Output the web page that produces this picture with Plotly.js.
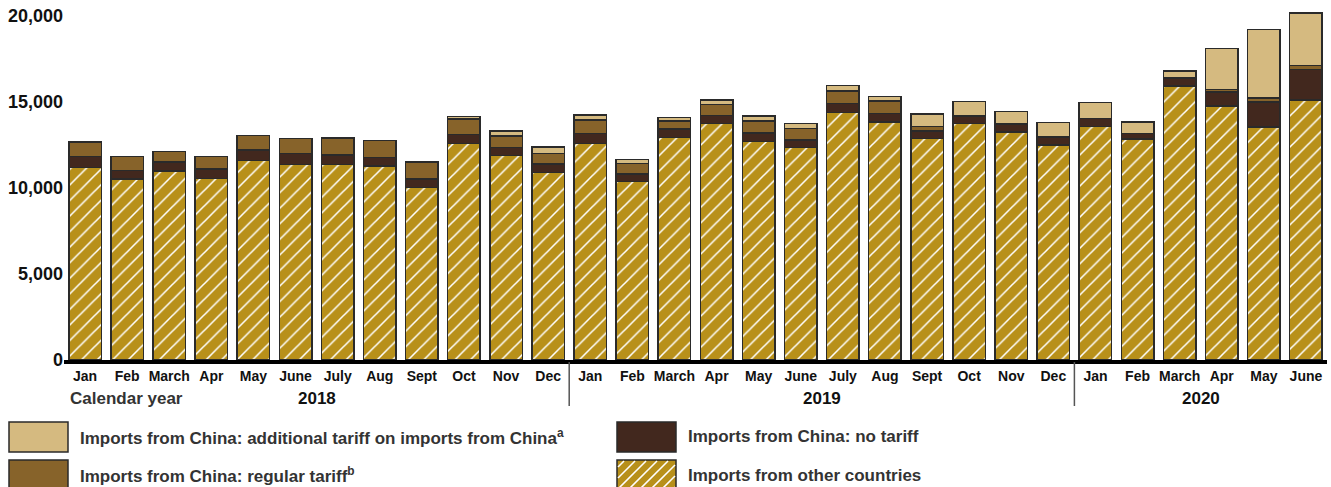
<!DOCTYPE html>
<html>
<head>
<meta charset="utf-8">
<script src="https://cdn.plot.ly/plotly-3.0.1.min.js"></script>
<style>html,body{margin:0;padding:0;background:#fff;}#chart{width:1331px;height:487px;}</style>
</head>
<body>
<div id="chart"></div>
<script>
// ---- data ----
const months = ['Jan','Feb','March','Apr','May','June','July','Aug','Sept','Oct','Nov','Dec',
                'Jan','Feb','March','Apr','May','June','July','Aug','Sept','Oct','Nov','Dec',
                'Jan','Feb','March','Apr','May','June'];
const yearLabels = ['2018','2019','2020'];
const otherCountries = [11200,10520,10990,10560,11610,11380,11380,11280,10020,12580,11880,10910,
                        12600,10370,12950,13740,12710,12350,14400,13840,12890,13760,13260,12500,
                        13570,12850,15930,14770,13550,15120];
const chinaNoTariff = [640,510,520,560,600,620,540,500,510,520,490,480,
                       580,450,470,490,480,430,520,500,430,430,430,450,
                       460,310,430,800,1450,1780];
const chinaRegular = [850,810,620,700,830,870,980,970,950,910,660,620,
                      780,600,480,620,700,680,720,720,270,40,20,20,
                      20,20,70,170,230,230];
const chinaAdditional = [0,0,0,0,0,0,30,0,40,150,290,370,
                         290,250,210,270,290,290,310,270,700,810,740,830,
                         910,660,370,2380,3990,3060];
const seriesNames = ['Imports from China: additional tariff on imports from China<sup>a</sup>',
                     'Imports from China: regular tariff<sup>b</sup>',
                     'Imports from China: no tariff',
                     'Imports from other countries'];

// ---- styles ----
const C_OTHER = '#B8901A', C_NO = '#42281E', C_REG = '#87632A', C_ADD = '#D5BA80';
const OUTLINE = {color:'#2a2a2a', width:1.5};
const xIdx = months.map((m,i)=>i);

const traces = [
  {type:'bar', x:xIdx, y:otherCountries, name:seriesNames[3],
   marker:{color:C_OTHER, line:OUTLINE, pattern:{shape:'/', fgcolor:'#ffffff', bgcolor:C_OTHER, size:11, solidity:0.14}}},
  {type:'bar', x:xIdx, y:chinaNoTariff, name:seriesNames[2], marker:{color:C_NO, line:OUTLINE}},
  {type:'bar', x:xIdx, y:chinaRegular, name:seriesNames[1], marker:{color:C_REG, line:OUTLINE}},
  {type:'bar', x:xIdx, y:chinaAdditional, name:seriesNames[0], marker:{color:C_ADD, line:OUTLINE}}
];

// geometry helpers (pixel -> paper)
const L = 64, R = 4, T = 4, B = 127, W = 1331, H = 487;
const PW = W - L - R, PH = H - T - B, BOTTOM = H - B;
const px = v => (v - L) / PW;
const py = v => (BOTTOM - v) / PH;

const shapes = [];
const annotations = [];
const fontB = {family:'Liberation Sans, Arial, sans-serif', weight:700};

// year separators
[11.5, 23.5].forEach(xv => shapes.push({type:'line', xref:'x', yref:'paper', x0:xv, x1:xv,
  y0:py(362), y1:py(406), line:{color:'#555', width:1.5}}));

// year labels
const yearCenters = [5.5, 17.5, 26.5];
yearLabels.forEach((t,i)=>annotations.push({xref:'x', yref:'paper', x:yearCenters[i], y:py(398),
  text:t, showarrow:false, xanchor:'center', yanchor:'middle', font:Object.assign({size:17, color:'#111'}, fontB)}));

annotations.push({xref:'paper', yref:'paper', x:px(68), y:py(398), text:'Calendar year', showarrow:false,
  xanchor:'left', yanchor:'middle', font:Object.assign({size:17, color:'#333'}, fontB)});

// custom legend
const legendItems = [
  {name:seriesNames[0], color:C_ADD, x:9, y:422},
  {name:seriesNames[1], color:C_REG, x:9, y:460},
  {name:seriesNames[2], color:C_NO, x:617, y:422},
  {name:seriesNames[3], color:C_OTHER, x:617, y:460, hatch:true}
];
const SW = 59, SH = 30;
legendItems.forEach(it => {
  shapes.push({type:'rect', xref:'paper', yref:'paper', x0:px(it.x), x1:px(it.x+SW), y0:py(it.y), y1:py(it.y+SH),
    fillcolor:it.color, line:{color:'#2a2a2a', width:1.5}, layer:'above'});
  if (it.hatch) {
    const x0 = it.x+1, x1 = it.x+SW-1, y0 = it.y+1, y1 = it.y+SH-1;
    for (let k = x0 + y0 + 6; k < x1 + y1; k += 11) {
      const xa = Math.max(x0, k - y1), xb = Math.min(x1, k - y0);
      if (xb - xa < 1) continue;
      shapes.push({type:'line', xref:'paper', yref:'paper', x0:px(xa), y0:py(k-xa), x1:px(xb), y1:py(k-xb),
        line:{color:'#ffffff', width:1.6}, layer:'above'});
    }
  }
  annotations.push({xref:'paper', yref:'paper', x:px(it.x+SW+10), y:py(it.y+SH/2), text:it.name, showarrow:false,
    xanchor:'left', yanchor:'middle', font:Object.assign({size:17, color:'#333'}, fontB)});
});

const layout = {
  width:W, height:H,
  margin:{l:L, r:R, t:T, b:B},
  paper_bgcolor:'#fff', plot_bgcolor:'#fff',
  barmode:'stack', bargap:0.23,
  showlegend:false,
  xaxis:{range:[-0.5, 29.5], tickmode:'array', tickvals:xIdx, ticktext:months, showgrid:false, zeroline:false,
    showline:true, linecolor:'#000', linewidth:4, ticks:'', tickfont:Object.assign({size:14, color:'#111'}, fontB), fixedrange:true},
  yaxis:{range:[0, 20700], tickmode:'array', tickvals:[0,5000,10000,15000,20000], tickformat:',', showgrid:false,
    zeroline:false, showline:false, ticks:'', tickfont:Object.assign({size:18, color:'#111'}, fontB), fixedrange:true},
  shapes:shapes, annotations:annotations
};

Plotly.newPlot('chart', traces, layout, {displayModeBar:false, staticPlot:true});
</script>
</body>
</html>
